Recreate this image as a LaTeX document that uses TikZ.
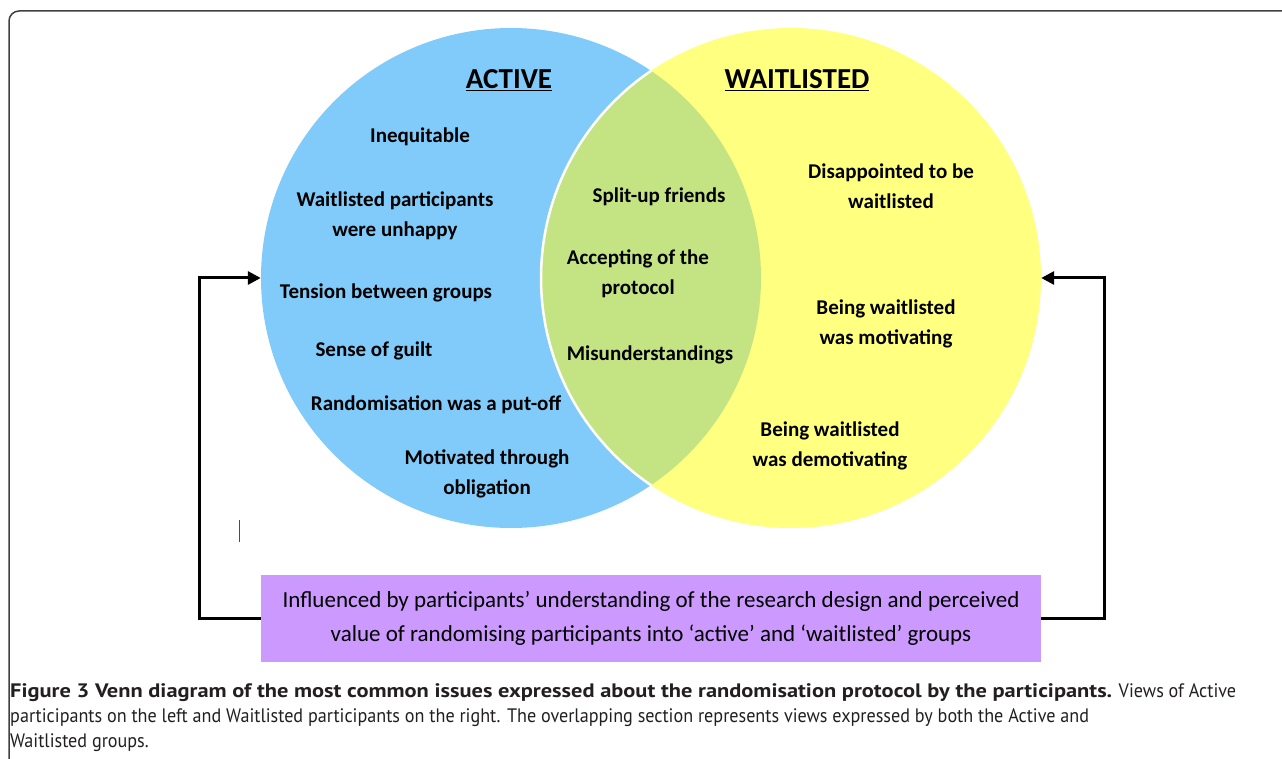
\documentclass[tikz,border=0pt]{standalone}
\usepackage{fontspec}
\setmainfont{Carlito}
\newfontfamily\capreg[FakeStretch=0.93]{PT Sans}
\newfontfamily\capbold[FakeStretch=1.15]{PT Sans}
\usetikzlibrary{arrows.meta,calc}
\definecolor{vblue}{RGB}{128,203,250}
\definecolor{vyellow}{RGB}{255,255,128}
\definecolor{vgreen}{RGB}{196,228,132}
\definecolor{vpurple}{RGB}{204,153,255}
\definecolor{captext}{RGB}{35,31,32}
\tikzset{
  item/.style={font=\bfseries\fontsize{21}{30}\selectfont, align=center, text=black, inner sep=0pt},
  head/.style={font=\bfseries\fontsize{29}{32}\selectfont, inner sep=0pt},
  arr/.style={line width=3pt, -{Triangle[length=13pt,width=13pt]}},
  capline/.style={anchor=base west, inner sep=0pt, text=captext, font=\capreg\fontsize{19.5}{24}\selectfont},
}
\begin{document}
\begin{tikzpicture}[x=1pt,y=-1pt]
\useasboundingbox (0,0) rectangle (1282,759);
% frame
\draw[line width=1.5pt, black!75, rounded corners=10pt] (9,762) -- (9,11) -- (1285,11);
% circles
\node[circle, fill=vblue, minimum size=500pt, inner sep=0pt] (A) at (511,278) {};
\node[circle, fill=vyellow, minimum size=500pt, inner sep=0pt] (W) at (791,278) {};
\begin{scope}
  \clip (511,278) circle (250pt);
  \fill[vgreen] (791,278) circle (250pt);
  \draw[white, line width=2.5pt] (791,278) circle (250pt);
\end{scope}
% headings
\node[head] (hA) at (509,80) {\underline{ACTIVE}};
\node[head] (hW) at (797,80) {\underline{WAITLISTED}};
% active items
\node[item] (a1) at (420,137) {Inequitable};
\node[item] (a2) at (395,216) {Waitlisted participants\\were unhappy};
\node[item] (a3) at (386,293) {Tension between groups};
\node[item] (a4) at (374,351) {Sense of guilt};
\node[item] (a5) at (436,405) {Randomisation was a put-off};
\node[item] (a6) at (487,474) {Motivated through\\obligation};
% shared items
\node[item] (s1) at (659,197) {Split-up friends};
\node[item] (s2) at (638,274) {Accepting of the\\protocol};
\node[item] (s3) at (650,355) {Misunderstandings};
% waitlisted items
\node[item] (w1) at (891,186) {Disappointed to be\\waitlisted};
\node[item] (w2) at (886,324) {Being waitlisted\\was motivating};
\node[item] (w3) at (830,446) {Being waitlisted\\was demotivating};
% bottom box
\node[fill=vpurple, minimum width=780pt, minimum height=87pt, inner sep=0pt, align=center,
      font=\fontsize{23}{34}\selectfont] (box) at (651,618.5)
  {Influenced by participants’ understanding of the research design and perceived\\value of randomising participants into ‘active’ and ‘waitlisted’ groups};
% connectors
\draw[arr] (box.west) -| ($(A.west)+(-61,0)$) -- (A.west);
\draw[arr] (box.east) -| ($(W.east)+(63,0)$) -- (W.east);
% stray mark
\draw[line width=1pt, black!70] (239,520) -- (239,542);
% caption
\node[capline] (c1) at (10,697) {{\capbold\bfseries Figure 3 Venn diagram of the most common issues expressed about the randomisation protocol by the participants.} Views of Active};
\node[capline] (c2) at (10,722) {participants on the left and Waitlisted participants on the right. The overlapping section represents views expressed by both the Active and};
\node[capline] (c3) at (10,747) {Waitlisted groups.};
\end{tikzpicture}
\end{document}
